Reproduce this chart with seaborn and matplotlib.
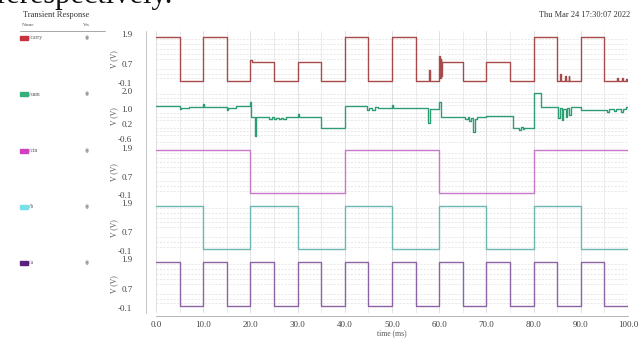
import matplotlib
matplotlib.use("Agg")
import matplotlib.pyplot as plt
from matplotlib.patches import Rectangle
from matplotlib.ticker import MultipleLocator, FixedLocator, FixedFormatter
import seaborn as sns

# -------------------------------
# Waveform data (time in ms, volts)
# -------------------------------
carry_t = [0, 5, 10, 15, 20, 20.4, 25, 30, 35, 40, 45, 50, 55, 57.9, 58.1,
           60, 60.15, 60.3, 60.45, 60.6, 65, 70, 75, 80, 85, 85.6, 85.8,
           86.6, 86.8, 87.4, 87.6, 90, 95, 97.6, 97.8, 98.8, 99.0, 99.5, 99.7, 100]
carry_v = [1.8, 0, 1.8, 0, 0.85, 0.78, 0, 0.78, 0, 1.8, 0, 1.8, 0, 0.45, 0,
           1.0, 0.1, 0.9, 0.2, 0.78, 0, 0.78, 0, 1.8, 0, 0.3, 0,
           0.2, 0, 0.2, 0, 1.8, 0, 0.1, 0, 0.12, 0, 0.08, 0, 0]

sum_t = [0, 5, 5.3, 7, 10, 10.2, 15, 15.3, 17, 20,
         20.1, 21, 21.2, 24, 24.5, 25, 25.5, 26, 26.5, 27,
         27.5, 28, 30, 30.2, 35, 40, 44.6, 45.2, 45.8, 46.4,
         47, 50, 50.2, 57.7, 58, 60, 60.3, 65.5, 66, 66.4,
         66.8, 67.2, 67.5, 68, 70, 75.6, 77, 77.3, 77.7, 78,
         80, 81.5, 85.2, 85.5, 86, 86.3, 86.8, 87.1, 87.6, 88,
         90, 95.5, 96, 97, 97.5, 98.5, 99, 99.5, 100]
sum_v = [1.15, 1.0, 1.08, 1.12, 1.3, 1.12, 0.95, 1.08, 1.15, 1.4,
         0.6, -0.45, 0.57, 0.48, 0.55, 0.45, 0.52, 0.44, 0.52, 0.47,
         0.55, 0.6, 0.75, 0.6, 0.0, 1.15, 0.95, 1.08, 0.98, 1.1,
         1.08, 1.25, 1.05, 0.25, 1.0, 1.4, 0.57, 0.45, 0.55, 0.35,
         0.5, -0.25, 0.45, 0.55, 0.62, 0.0, -0.15, 0.05, -0.1, 0.0,
         1.9, 1.12, 0.5, 1.05, 0.4, 1.0, 0.55, 1.05, 0.7, 1.1,
         0.98, 0.85, 1.0, 0.88, 1.0, 0.85, 1.0, 1.1, 1.1]

cin_t = [0, 20, 40, 60, 80, 100]
cin_v = [1.8, 0, 1.8, 0, 1.8, 1.8]

b_t = [0, 10, 20, 30, 40, 50, 60, 70, 80, 90, 100]
b_v = [1.8, 0, 1.8, 0, 1.8, 0, 1.8, 0, 1.8, 0, 0]

a_t = [0, 5, 10, 15, 20, 25, 30, 35, 40, 45, 50, 55, 60, 65, 70, 75, 80, 85, 90, 95, 100]
a_v = [1.8, 0, 1.8, 0, 1.8, 0, 1.8, 0, 1.8, 0, 1.8, 0, 1.8, 0, 1.8, 0, 1.8, 0, 1.8, 0, 0]

names = ["/carry", "/sum", "/cin", "/b", "/a"]
swatch_colors = ["#c8323c", "#35b07c", "#d040c0", "#78e0e8", "#5c2080"]
trace_colors = ["#a84a4a", "#2f9d74", "#c878c8", "#6cb8b0", "#8c64a4"]
ytick_vals = [[1.9, 0.7, -0.1], [2.0, 1.0, 0.2, -0.6], [1.9, 0.7, -0.1],
              [1.9, 0.7, -0.1], [1.9, 0.7, -0.1]]
x_major = [0, 10, 20, 30, 40, 50, 60, 70, 80, 90, 100]
x_labels = ["0.0", "10.0", "20.0", "30.0", "40.0", "50.0", "60.0",
            "70.0", "80.0", "90.0", "100.0"]

signals = [(carry_t, carry_v), (sum_t, sum_v), (cin_t, cin_v), (b_t, b_v), (a_t, a_v)]

sns.set_style("white")
plt.rcParams["font.family"] = ["Liberation Serif", "DejaVu Sans"]

W, H = 639, 338
fig = plt.figure(figsize=(W / 100, H / 100), dpi=100)

# panel pixel extents (top, bottom)
panel_px = [(31, 88), (88, 145), (145, 200), (200, 256), (256, 313)]
left_px, right_px = 156, 628

for i, ((t, v), (top, bot)) in enumerate(zip(signals, panel_px)):
    ax = fig.add_axes([left_px / W, 1 - bot / H, (right_px - left_px) / W, (bot - top) / H])
    sns.lineplot(x=t, y=v, ax=ax, color=trace_colors[i], lw=1.0,
                 drawstyle="steps-post", estimator=None, sort=False, legend=False)
    ax.set_xlim(0, 100)
    if i == 1:
        ax.set_ylim(-0.95, 2.15)
        ax.yaxis.set_minor_locator(MultipleLocator(0.2))
    else:
        ax.set_ylim(-0.29, 2.03)
        ax.yaxis.set_minor_locator(MultipleLocator(0.2, offset=0.1))
    ax.yaxis.set_major_locator(FixedLocator(ytick_vals[i]))
    ax.yaxis.set_major_formatter(FixedFormatter([f"{y:.1f}" for y in ytick_vals[i]]))

    # grid
    ax.grid(False)
    ax.grid(which="minor", axis="y", color="#e0e0e0", lw=0.5, ls=(0, (3, 2)))
    for gx in range(0, 101, 5):
        ax.axvline(gx, color="#dadada" if gx % 10 == 0 else "#e8e8e8", lw=0.6, zorder=0)

    for s in ["top", "right"]:
        ax.spines[s].set_visible(False)
    ax.spines["left"].set_position(("outward", 7))
    ax.spines["left"].set_color("#b0b0b0")
    ax.spines["left"].set_linewidth(0.5)
    ax.tick_params(axis="y", which="major", length=3, width=0.5, color="#777777",
                   labelsize=6.5, labelcolor="#444444", pad=7)
    ax.tick_params(axis="y", which="minor", length=2, width=0.4, color="#888888")
    ax.set_ylabel("")
    ax.set_xlabel("")
    fig.text(114 / W, 1 - (top + bot) / 2 / H, "V (V)", rotation=90, ha="center",
             va="center", fontsize=5.5, color="#555555")

    if i < 4:
        ax.spines["bottom"].set_visible(False)
        ax.tick_params(axis="x", which="both", bottom=False, labelbottom=False)
    else:
        ax.spines["bottom"].set_position(("outward", 2))
        ax.spines["bottom"].set_color("#999999")
        ax.spines["bottom"].set_linewidth(0.5)
        ax.xaxis.set_major_locator(FixedLocator(x_major))
        ax.xaxis.set_major_formatter(FixedFormatter(x_labels))
        ax.xaxis.set_minor_locator(MultipleLocator(1))
        ax.tick_params(axis="x", which="major", direction="in", length=3, width=0.5,
                       color="#777777", labelsize=6.5, labelcolor="#444444", pad=4)
        ax.tick_params(axis="x", which="minor", direction="in", length=1.5, width=0.4,
                       color="#888888")
        fig.text((left_px + right_px) / 2 / W, 1 - 333 / H, "time (ms)", fontsize=5.5,
                 ha="center", va="center", color="#555555")

    # legend column entry
    ymid = [38, 94, 151, 207, 263][i]
    fig.patches.append(Rectangle((20 / W, 1 - (ymid + 2) / H), 8 / W, 4 / H,
                                 transform=fig.transFigure, color=swatch_colors[i]))
    fig.text(29 / W, 1 - ymid / H, names[i], fontsize=4, va="center", color="#555555")
    fig.text(87 / W, 1 - ymid / H, "◉", fontsize=3.5, va="center", ha="center",
             color="#888888", family=["DejaVu Sans"])

# header / decoration
fig.text(23 / W, 1 - 15 / H, "Transient Response", fontsize=6, va="center", color="#333333")
fig.text(22 / W, 1 - 25 / H, "Name", fontsize=3.8, va="center", color="#555555")
fig.text(83 / W, 1 - 25 / H, "Vis", fontsize=3.8, va="center", color="#555555")
fig.add_artist(plt.Line2D([20 / W, 105 / W], [1 - 30.5 / H, 1 - 30.5 / H],
                          transform=fig.transFigure, color="#999999", lw=0.6))
fig.text(630 / W, 1 - 15 / H, "Thu Mar 24 17:30:07 2022", fontsize=6, va="center",
         ha="right", color="#333333")
# cropped line of document text above the screenshot
fig.text(-4 / W, 1 - 3.5 / H, "rerespectively.", fontsize=22, va="baseline", ha="left",
         color="#111111")

fig.savefig("out.png", dpi=100)
